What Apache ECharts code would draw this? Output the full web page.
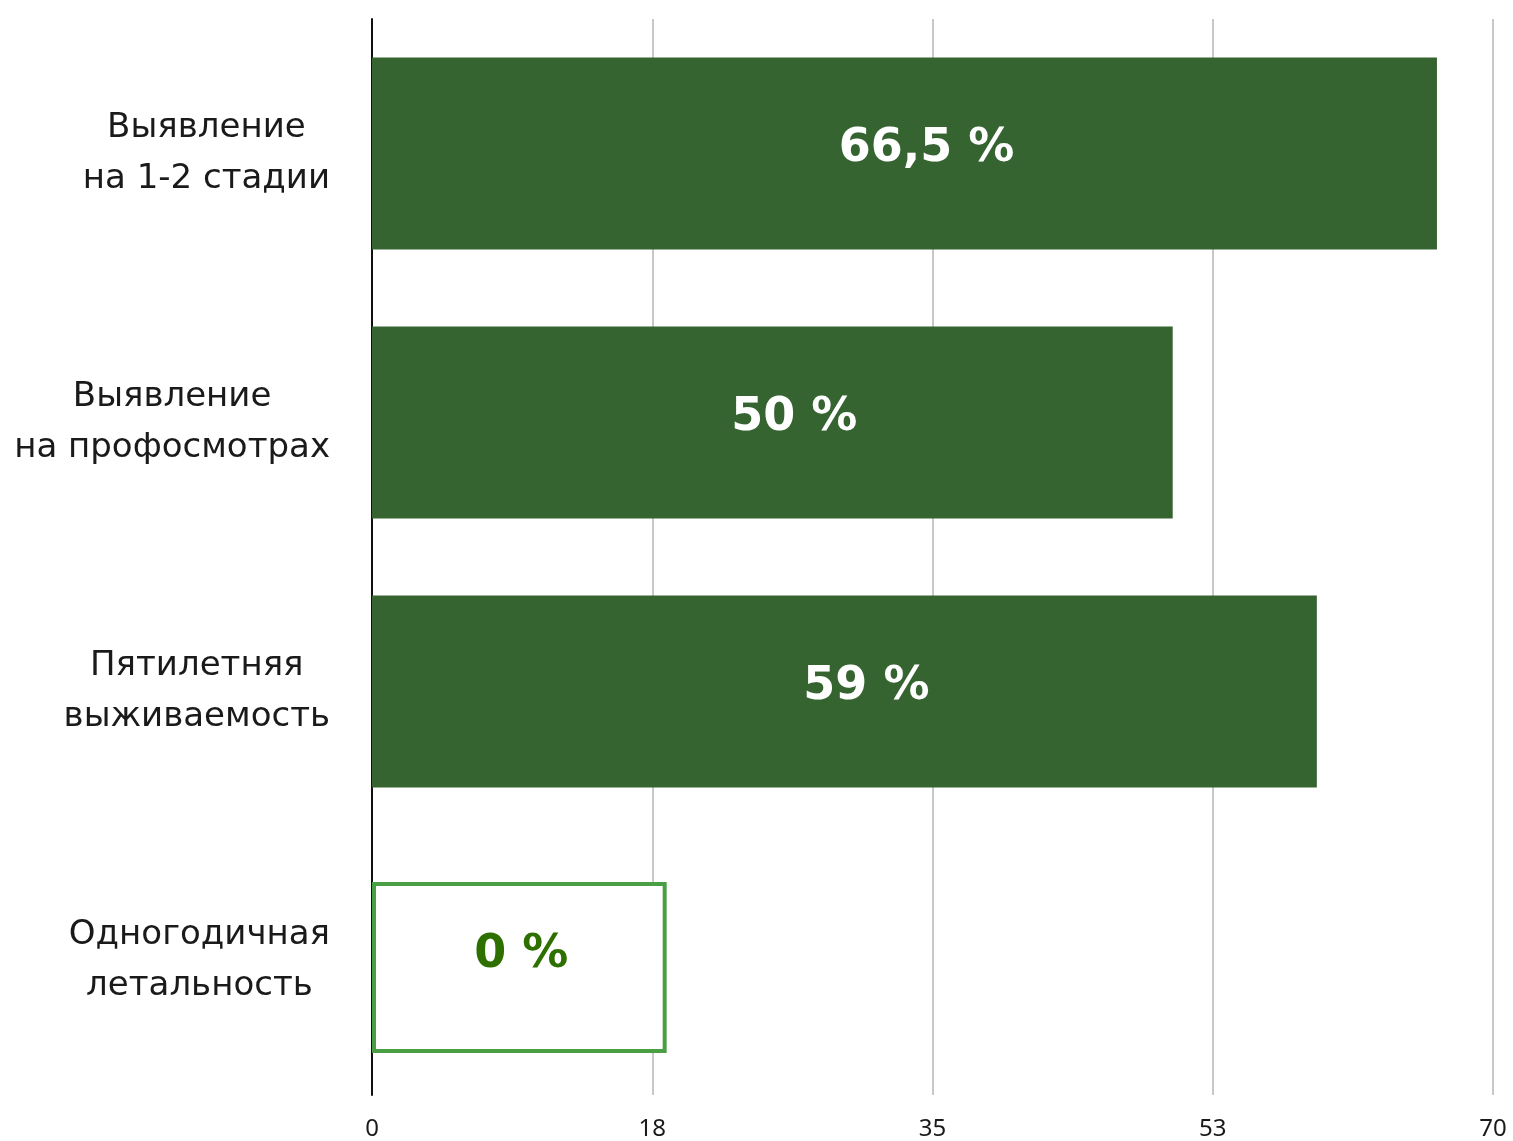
<!DOCTYPE html>
<html>
<head>
<meta charset="utf-8">
<script src="https://cdn.jsdelivr.net/npm/echarts@6/dist/echarts.min.js"></script>
<style>
html,body{margin:0;padding:0;background:#fff;}
#chart{width:1513px;height:1141px;}
</style>
</head>
<body>
<div id="chart"></div>
<script>
const categories = [
  "Выявление\nна 1-2 стадии",
  "Выявление\nна профосмотрах",
  "Пятилетняя\nвыживаемость",
  "Одногодичная\nлетальность"
];
const filledValues = [66.5, 50, 59, null];
const outlineValues = [null, null, null, 18.4];
const valueLabels = ["66,5 %", "50 %", "59 %", "0 %"];
const axisMin = 0, axisMax = 70, axisInterval = 17.5;

const chart = echarts.init(document.getElementById('chart'));
const catAxisBase = {
  type: 'category',
  data: categories,
  inverse: true,
  axisTick: { show: false },
  splitLine: { show: false }
};
chart.setOption({
  animation: false,
  grid: [
    { left: 372, right: 20, top: 19, bottom: 45, containLabel: false },
    { left: 372, right: 20, top: 25, bottom: 39, containLabel: false }
  ],
  xAxis: [
    {
      type: 'value', gridIndex: 0,
      min: axisMin, max: axisMax, interval: axisInterval,
      axisLine: { show: false },
      axisTick: { show: false },
      splitLine: { show: true, lineStyle: { color: '#c8c8c8', width: 2 } },
      axisLabel: {
        margin: 22,
        fontFamily: 'Noto Sans', fontSize: 24, color: '#1a1a1a',
        formatter: v => String(Math.round(v))
      }
    },
    {
      type: 'value', gridIndex: 1,
      min: axisMin, max: axisMax, interval: axisInterval,
      show: false
    }
  ],
  yAxis: [
    Object.assign({}, catAxisBase, {
      gridIndex: 0,
      axisLine: { show: true, lineStyle: { color: '#111', width: 2 } },
      axisLabel: {
        margin: 42,
        formatter: v => v.split('\n').map(l => '{c|' + l + '}').join('\n'),
        rich: {
          c: { align: 'center', fontFamily: 'DejaVu Sans', fontSize: 34, color: '#1a1a1a', lineHeight: 51 }
        }
      }
    }),
    Object.assign({}, catAxisBase, {
      gridIndex: 1,
      show: false
    })
  ],
  series: [
    {
      type: 'bar',
      xAxisIndex: 0, yAxisIndex: 0,
      data: filledValues,
      barWidth: 192,
      itemStyle: { color: '#356430' },
      label: {
        show: true,
        position: 'inside',
        offset: [22, -4],
        formatter: p => valueLabels[p.dataIndex],
        fontFamily: 'DejaVu Sans', fontWeight: 'bold', fontSize: 46, color: '#ffffff'
      },
      z: 3
    },
    {
      type: 'bar',
      xAxisIndex: 1, yAxisIndex: 1,
      data: outlineValues,
      barWidth: 171,
      itemStyle: { color: '#ffffff', borderColor: '#4a9e44', borderWidth: 4 },
      label: {
        show: true,
        position: 'inside',
        offset: [2, -12],
        formatter: p => valueLabels[p.dataIndex],
        fontFamily: 'DejaVu Sans', fontWeight: 'bold', fontSize: 46, color: '#2e7000'
      },
      z: 3
    }
  ]
});
</script>
</body>
</html>
